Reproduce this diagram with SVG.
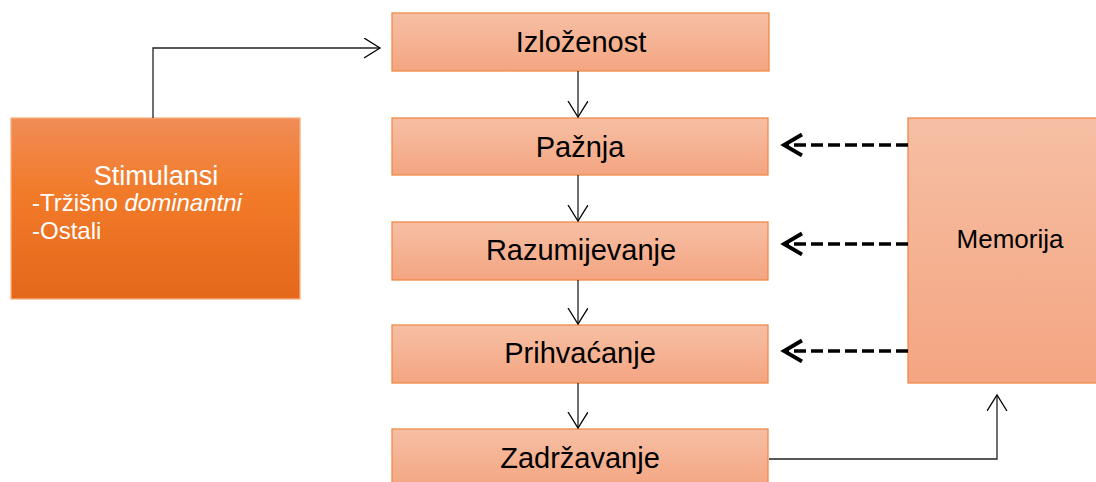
<svg xmlns="http://www.w3.org/2000/svg" width="1096" height="482" viewBox="0 0 1096 482">
<defs>
<linearGradient id="gl" x1="0" y1="0" x2="0" y2="1"><stop offset="0" stop-color="#f6bfa4"/><stop offset="1" stop-color="#f4a581"/></linearGradient>
<linearGradient id="go" x1="0" y1="0" x2="0" y2="1"><stop offset="0" stop-color="#f08c56"/><stop offset="0.4" stop-color="#f27b2a"/><stop offset="1" stop-color="#e4681a"/></linearGradient>
<marker id="a" markerWidth="20" markerHeight="24" refX="16" refY="10" orient="auto" markerUnits="userSpaceOnUse"><path d="M0,0 L16,10 L0,20" fill="none" stroke="#000" stroke-width="1.3"/></marker>
<marker id="ad" markerWidth="26" markerHeight="26" refX="19" refY="12" orient="auto" markerUnits="userSpaceOnUse"><path d="M1,1.5 L19,12 L1,22.5" fill="none" stroke="#000" stroke-width="3.8"/></marker>
</defs>
<style>
.l{fill:url(#gl);stroke:#f0894a;stroke-width:1.3}
.t{font-family:"Liberation Sans",Arial,sans-serif;font-size:29px;fill:#000;text-anchor:middle}
.w{font-family:"Liberation Sans",Arial,sans-serif;fill:#fff}
.c{fill:none;stroke:#222;stroke-width:1.3}
.d{fill:none;stroke:#000;stroke-width:3.6;stroke-dasharray:12,5}
</style>
<g id="stimulansi">
<rect x="11" y="118" width="289" height="181" fill="url(#go)" stroke="#f4b183" stroke-width="1.3"/>
<text class="w" x="156" y="185" font-size="27" text-anchor="middle">Stimulansi</text>
<text class="w" x="32" y="211" font-size="24">-Tržišno <tspan font-style="italic">dominantni</tspan></text>
<text class="w" x="32" y="239" font-size="24">-Ostali</text>
</g>
<g id="izlozenost"><rect class="l" x="392" y="13" width="377" height="58"/><text class="t" x="581" y="52">Izloženost</text></g>
<g id="paznja"><rect class="l" x="392" y="118" width="376" height="57"/><text class="t" x="580" y="157">Pažnja</text></g>
<g id="razumijevanje"><rect class="l" x="392" y="222" width="376" height="58"/><text class="t" x="581" y="260">Razumijevanje</text></g>
<g id="prihvacanje"><rect class="l" x="392" y="325" width="376" height="58"/><text class="t" x="580" y="363">Prihvaćanje</text></g>
<g id="zadrzavanje"><rect class="l" x="392" y="429" width="376" height="60"/><text class="t" x="580" y="468">Zadržavanje</text></g>
<g id="memorija"><rect class="l" x="908" y="118" width="196" height="265"/><text class="t" x="1010" y="248" style="font-size:26px">Memorija</text></g>
<g id="connectors">
<path class="c" d="M153,118 V48 H380" marker-end="url(#a)"/>
<path class="c" d="M578,71 V117" marker-end="url(#a)"/>
<path class="c" d="M578,175 V221" marker-end="url(#a)"/>
<path class="c" d="M578,280 V324" marker-end="url(#a)"/>
<path class="c" d="M578,383 V428" marker-end="url(#a)"/>
<path class="c" d="M769,459 H997 V395" marker-end="url(#a)"/>
<path class="d" d="M908,145 H784" marker-end="url(#ad)"/>
<path class="d" d="M908,244 H784" marker-end="url(#ad)"/>
<path class="d" d="M908,351 H784" marker-end="url(#ad)"/>
</g>
</svg>
